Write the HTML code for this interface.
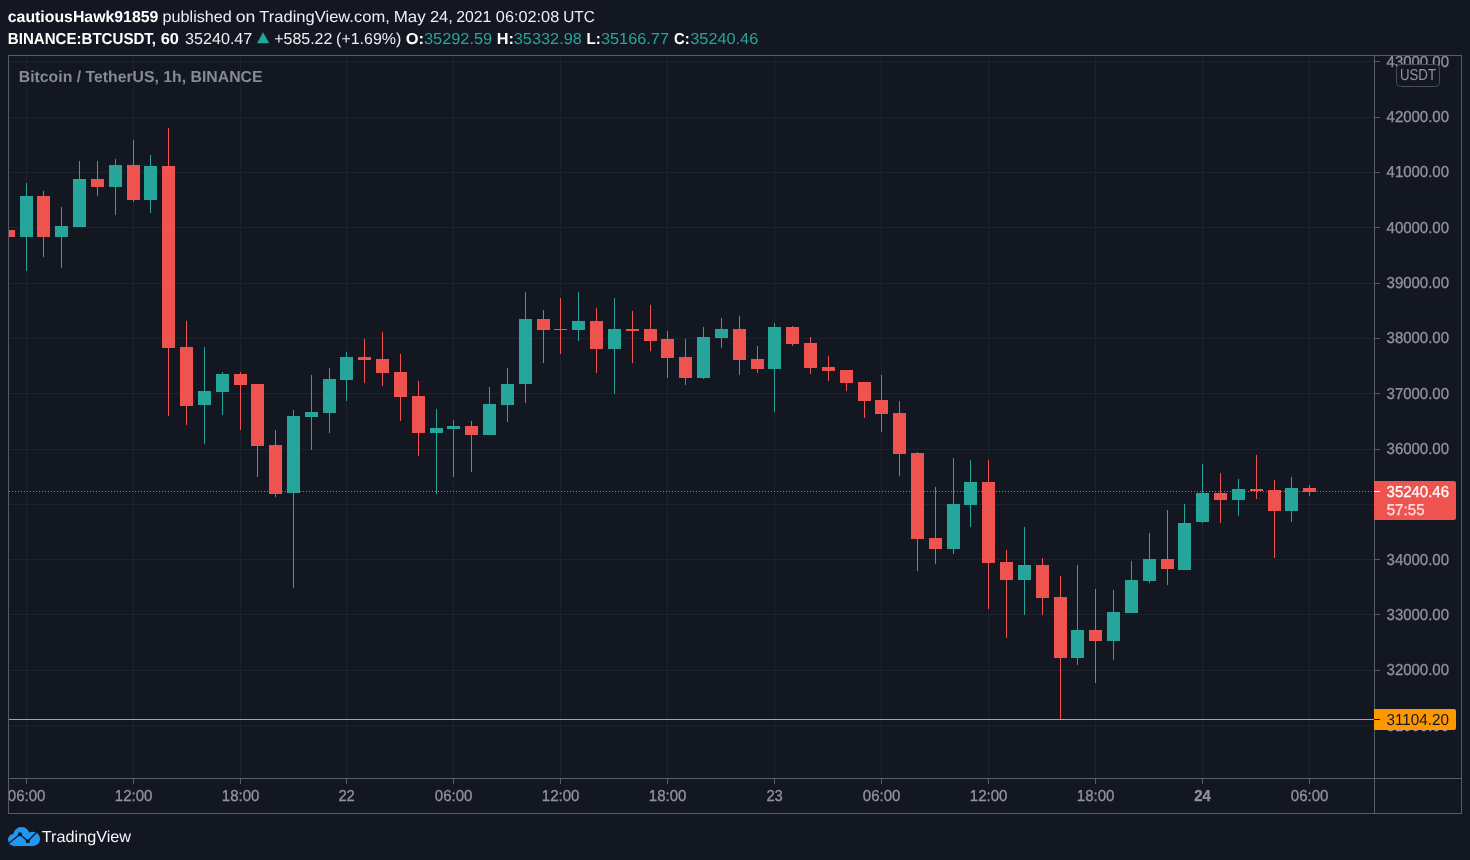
<!DOCTYPE html>
<html lang="en"><head><meta charset="utf-8"><title>BTCUSDT chart - TradingView</title>
<style>html,body{margin:0;padding:0;background:#131722;overflow:hidden}svg{display:block}text{font-family:"Liberation Sans",sans-serif;}.b{font-weight:bold}</style></head><body>
<svg width="1470" height="860" viewBox="0 0 1470 860" text-rendering="geometricPrecision">
<rect width="1470" height="860" fill="#131722"/>
<defs><clipPath id="pane"><rect x="9" y="56" width="1365" height="722"/></clipPath><clipPath id="paxis"><rect x="1375" y="56" width="86" height="722"/></clipPath><clipPath id="taxis"><rect x="9" y="779" width="1365" height="34"/></clipPath></defs>
<g shape-rendering="crispEdges">
<rect x="26" y="56" width="1" height="722" fill="#1e222d"/>
<rect x="133" y="56" width="1" height="722" fill="#1e222d"/>
<rect x="240" y="56" width="1" height="722" fill="#1e222d"/>
<rect x="346" y="56" width="1" height="722" fill="#1e222d"/>
<rect x="453" y="56" width="1" height="722" fill="#1e222d"/>
<rect x="560" y="56" width="1" height="722" fill="#1e222d"/>
<rect x="667" y="56" width="1" height="722" fill="#1e222d"/>
<rect x="774" y="56" width="1" height="722" fill="#1e222d"/>
<rect x="881" y="56" width="1" height="722" fill="#1e222d"/>
<rect x="988" y="56" width="1" height="722" fill="#1e222d"/>
<rect x="1095" y="56" width="1" height="722" fill="#1e222d"/>
<rect x="1202" y="56" width="1" height="722" fill="#1e222d"/>
<rect x="1309" y="56" width="1" height="722" fill="#1e222d"/>
<rect x="9" y="61" width="1365" height="1" fill="#1e222d"/>
<rect x="9" y="117" width="1365" height="1" fill="#1e222d"/>
<rect x="9" y="172" width="1365" height="1" fill="#1e222d"/>
<rect x="9" y="227" width="1365" height="1" fill="#1e222d"/>
<rect x="9" y="283" width="1365" height="1" fill="#1e222d"/>
<rect x="9" y="338" width="1365" height="1" fill="#1e222d"/>
<rect x="9" y="393" width="1365" height="1" fill="#1e222d"/>
<rect x="9" y="449" width="1365" height="1" fill="#1e222d"/>
<rect x="9" y="504" width="1365" height="1" fill="#1e222d"/>
<rect x="9" y="559" width="1365" height="1" fill="#1e222d"/>
<rect x="9" y="614" width="1365" height="1" fill="#1e222d"/>
<rect x="9" y="670" width="1365" height="1" fill="#1e222d"/>
<rect x="9" y="725" width="1365" height="1" fill="#1e222d"/>
<g clip-path="url(#pane)">
<rect x="2" y="230" width="13" height="7" fill="#ef5350"/>
<rect x="26" y="183" width="1" height="88" fill="#26a69a"/>
<rect x="20" y="196" width="13" height="41" fill="#26a69a"/>
<rect x="43" y="191" width="1" height="66" fill="#ef5350"/>
<rect x="37" y="196" width="13" height="41" fill="#ef5350"/>
<rect x="61" y="207" width="1" height="61" fill="#26a69a"/>
<rect x="55" y="226" width="13" height="11" fill="#26a69a"/>
<rect x="79" y="161" width="1" height="66" fill="#26a69a"/>
<rect x="73" y="179" width="13" height="48" fill="#26a69a"/>
<rect x="97" y="161" width="1" height="35" fill="#ef5350"/>
<rect x="91" y="179" width="13" height="8" fill="#ef5350"/>
<rect x="115" y="159" width="1" height="56" fill="#26a69a"/>
<rect x="109" y="165" width="13" height="22" fill="#26a69a"/>
<rect x="133" y="140" width="1" height="62" fill="#ef5350"/>
<rect x="127" y="165" width="13" height="35" fill="#ef5350"/>
<rect x="150" y="155" width="1" height="58" fill="#26a69a"/>
<rect x="144" y="166" width="13" height="34" fill="#26a69a"/>
<rect x="168" y="128" width="1" height="288" fill="#ef5350"/>
<rect x="162" y="166" width="13" height="182" fill="#ef5350"/>
<rect x="186" y="321" width="1" height="104" fill="#ef5350"/>
<rect x="180" y="347" width="13" height="59" fill="#ef5350"/>
<rect x="204" y="347" width="1" height="97" fill="#26a69a"/>
<rect x="198" y="391" width="13" height="14" fill="#26a69a"/>
<rect x="222" y="372" width="1" height="43" fill="#26a69a"/>
<rect x="216" y="374" width="13" height="18" fill="#26a69a"/>
<rect x="240" y="372" width="1" height="58" fill="#ef5350"/>
<rect x="234" y="374" width="13" height="11" fill="#ef5350"/>
<rect x="257" y="384" width="1" height="93" fill="#ef5350"/>
<rect x="251" y="384" width="13" height="62" fill="#ef5350"/>
<rect x="275" y="430" width="1" height="67" fill="#ef5350"/>
<rect x="269" y="445" width="13" height="49" fill="#ef5350"/>
<rect x="293" y="410" width="1" height="178" fill="#26a69a"/>
<rect x="287" y="416" width="13" height="77" fill="#26a69a"/>
<rect x="311" y="375" width="1" height="75" fill="#26a69a"/>
<rect x="305" y="412" width="13" height="5" fill="#26a69a"/>
<rect x="329" y="368" width="1" height="65" fill="#26a69a"/>
<rect x="323" y="379" width="13" height="34" fill="#26a69a"/>
<rect x="346" y="352" width="1" height="49" fill="#26a69a"/>
<rect x="340" y="357" width="13" height="23" fill="#26a69a"/>
<rect x="364" y="339" width="1" height="44" fill="#ef5350"/>
<rect x="358" y="357" width="13" height="3" fill="#ef5350"/>
<rect x="382" y="332" width="1" height="54" fill="#ef5350"/>
<rect x="376" y="359" width="13" height="14" fill="#ef5350"/>
<rect x="400" y="354" width="1" height="67" fill="#ef5350"/>
<rect x="394" y="372" width="13" height="25" fill="#ef5350"/>
<rect x="418" y="381" width="1" height="75" fill="#ef5350"/>
<rect x="412" y="396" width="13" height="37" fill="#ef5350"/>
<rect x="436" y="409" width="1" height="85" fill="#26a69a"/>
<rect x="430" y="428" width="13" height="5" fill="#26a69a"/>
<rect x="453" y="420" width="1" height="57" fill="#26a69a"/>
<rect x="447" y="426" width="13" height="3" fill="#26a69a"/>
<rect x="471" y="421" width="1" height="51" fill="#ef5350"/>
<rect x="465" y="426" width="13" height="9" fill="#ef5350"/>
<rect x="489" y="387" width="1" height="48" fill="#26a69a"/>
<rect x="483" y="404" width="13" height="31" fill="#26a69a"/>
<rect x="507" y="368" width="1" height="54" fill="#26a69a"/>
<rect x="501" y="384" width="13" height="21" fill="#26a69a"/>
<rect x="525" y="292" width="1" height="111" fill="#26a69a"/>
<rect x="519" y="319" width="13" height="65" fill="#26a69a"/>
<rect x="543" y="310" width="1" height="53" fill="#ef5350"/>
<rect x="537" y="319" width="13" height="11" fill="#ef5350"/>
<rect x="560" y="298" width="1" height="56" fill="#ef5350"/>
<rect x="554" y="329" width="13" height="1" fill="#ef5350"/>
<rect x="578" y="292" width="1" height="49" fill="#26a69a"/>
<rect x="572" y="321" width="13" height="9" fill="#26a69a"/>
<rect x="596" y="308" width="1" height="65" fill="#ef5350"/>
<rect x="590" y="321" width="13" height="28" fill="#ef5350"/>
<rect x="614" y="298" width="1" height="96" fill="#26a69a"/>
<rect x="608" y="329" width="13" height="20" fill="#26a69a"/>
<rect x="632" y="311" width="1" height="52" fill="#ef5350"/>
<rect x="626" y="329" width="13" height="2" fill="#ef5350"/>
<rect x="650" y="305" width="1" height="46" fill="#ef5350"/>
<rect x="644" y="329" width="13" height="12" fill="#ef5350"/>
<rect x="667" y="331" width="1" height="47" fill="#ef5350"/>
<rect x="661" y="339" width="13" height="19" fill="#ef5350"/>
<rect x="685" y="339" width="1" height="46" fill="#ef5350"/>
<rect x="679" y="357" width="13" height="21" fill="#ef5350"/>
<rect x="703" y="327" width="1" height="52" fill="#26a69a"/>
<rect x="697" y="337" width="13" height="41" fill="#26a69a"/>
<rect x="721" y="318" width="1" height="30" fill="#26a69a"/>
<rect x="715" y="329" width="13" height="9" fill="#26a69a"/>
<rect x="739" y="316" width="1" height="59" fill="#ef5350"/>
<rect x="733" y="329" width="13" height="31" fill="#ef5350"/>
<rect x="757" y="346" width="1" height="27" fill="#ef5350"/>
<rect x="751" y="359" width="13" height="10" fill="#ef5350"/>
<rect x="774" y="323" width="1" height="89" fill="#26a69a"/>
<rect x="768" y="327" width="13" height="42" fill="#26a69a"/>
<rect x="792" y="326" width="1" height="20" fill="#ef5350"/>
<rect x="786" y="327" width="13" height="17" fill="#ef5350"/>
<rect x="810" y="337" width="1" height="37" fill="#ef5350"/>
<rect x="804" y="343" width="13" height="25" fill="#ef5350"/>
<rect x="828" y="356" width="1" height="25" fill="#ef5350"/>
<rect x="822" y="367" width="13" height="4" fill="#ef5350"/>
<rect x="846" y="370" width="1" height="21" fill="#ef5350"/>
<rect x="840" y="370" width="13" height="13" fill="#ef5350"/>
<rect x="864" y="382" width="1" height="36" fill="#ef5350"/>
<rect x="858" y="382" width="13" height="19" fill="#ef5350"/>
<rect x="881" y="375" width="1" height="57" fill="#ef5350"/>
<rect x="875" y="400" width="13" height="14" fill="#ef5350"/>
<rect x="899" y="401" width="1" height="75" fill="#ef5350"/>
<rect x="893" y="413" width="13" height="41" fill="#ef5350"/>
<rect x="917" y="452" width="1" height="119" fill="#ef5350"/>
<rect x="911" y="453" width="13" height="86" fill="#ef5350"/>
<rect x="935" y="487" width="1" height="77" fill="#ef5350"/>
<rect x="929" y="538" width="13" height="11" fill="#ef5350"/>
<rect x="953" y="458" width="1" height="96" fill="#26a69a"/>
<rect x="947" y="504" width="13" height="45" fill="#26a69a"/>
<rect x="970" y="460" width="1" height="67" fill="#26a69a"/>
<rect x="964" y="482" width="13" height="23" fill="#26a69a"/>
<rect x="988" y="460" width="1" height="149" fill="#ef5350"/>
<rect x="982" y="482" width="13" height="81" fill="#ef5350"/>
<rect x="1006" y="550" width="1" height="88" fill="#ef5350"/>
<rect x="1000" y="562" width="13" height="18" fill="#ef5350"/>
<rect x="1024" y="527" width="1" height="88" fill="#26a69a"/>
<rect x="1018" y="565" width="13" height="15" fill="#26a69a"/>
<rect x="1042" y="558" width="1" height="57" fill="#ef5350"/>
<rect x="1036" y="565" width="13" height="33" fill="#ef5350"/>
<rect x="1060" y="576" width="1" height="143" fill="#ef5350"/>
<rect x="1054" y="597" width="13" height="61" fill="#ef5350"/>
<rect x="1077" y="565" width="1" height="100" fill="#26a69a"/>
<rect x="1071" y="630" width="13" height="28" fill="#26a69a"/>
<rect x="1095" y="589" width="1" height="94" fill="#ef5350"/>
<rect x="1089" y="630" width="13" height="11" fill="#ef5350"/>
<rect x="1113" y="590" width="1" height="70" fill="#26a69a"/>
<rect x="1107" y="612" width="13" height="29" fill="#26a69a"/>
<rect x="1131" y="561" width="1" height="52" fill="#26a69a"/>
<rect x="1125" y="580" width="13" height="33" fill="#26a69a"/>
<rect x="1149" y="533" width="1" height="50" fill="#26a69a"/>
<rect x="1143" y="559" width="13" height="22" fill="#26a69a"/>
<rect x="1167" y="510" width="1" height="75" fill="#ef5350"/>
<rect x="1161" y="559" width="13" height="10" fill="#ef5350"/>
<rect x="1184" y="504" width="1" height="66" fill="#26a69a"/>
<rect x="1178" y="523" width="13" height="47" fill="#26a69a"/>
<rect x="1202" y="464" width="1" height="59" fill="#26a69a"/>
<rect x="1196" y="493" width="13" height="29" fill="#26a69a"/>
<rect x="1220" y="473" width="1" height="50" fill="#ef5350"/>
<rect x="1214" y="493" width="13" height="7" fill="#ef5350"/>
<rect x="1238" y="479" width="1" height="37" fill="#26a69a"/>
<rect x="1232" y="489" width="13" height="11" fill="#26a69a"/>
<rect x="1256" y="455" width="1" height="44" fill="#ef5350"/>
<rect x="1250" y="489" width="13" height="2" fill="#ef5350"/>
<rect x="1274" y="480" width="1" height="78" fill="#ef5350"/>
<rect x="1268" y="490" width="13" height="21" fill="#ef5350"/>
<rect x="1291" y="477" width="1" height="45" fill="#26a69a"/>
<rect x="1285" y="488" width="13" height="23" fill="#26a69a"/>
<rect x="1309" y="485" width="1" height="11" fill="#ef5350"/>
<rect x="1303" y="488" width="13" height="4" fill="#ef5350"/>
</g>
<rect x="9" y="719" width="1365" height="1" fill="#ff9800"/>
<line x1="9" y1="491.5" x2="1374" y2="491.5" stroke="#ef5350" stroke-width="1" stroke-dasharray="1 2"/>
<rect x="8" y="55" width="1454" height="1" fill="#585b68"/>
<rect x="8" y="813" width="1454" height="1" fill="#585b68"/>
<rect x="8" y="55" width="1" height="759" fill="#585b68"/>
<rect x="1461" y="55" width="1" height="759" fill="#585b68"/>
<rect x="1374" y="55" width="1" height="759" fill="#585b68"/>
<rect x="8" y="778" width="1454" height="1" fill="#585b68"/>
<rect x="26" y="779" width="1" height="5" fill="#585b68"/>
<rect x="133" y="779" width="1" height="5" fill="#585b68"/>
<rect x="240" y="779" width="1" height="5" fill="#585b68"/>
<rect x="346" y="779" width="1" height="5" fill="#585b68"/>
<rect x="453" y="779" width="1" height="5" fill="#585b68"/>
<rect x="560" y="779" width="1" height="5" fill="#585b68"/>
<rect x="667" y="779" width="1" height="5" fill="#585b68"/>
<rect x="774" y="779" width="1" height="5" fill="#585b68"/>
<rect x="881" y="779" width="1" height="5" fill="#585b68"/>
<rect x="988" y="779" width="1" height="5" fill="#585b68"/>
<rect x="1095" y="779" width="1" height="5" fill="#585b68"/>
<rect x="1202" y="779" width="1" height="5" fill="#585b68"/>
<rect x="1309" y="779" width="1" height="5" fill="#585b68"/>
<rect x="1375" y="61" width="5" height="1" fill="#585b68"/>
<rect x="1375" y="117" width="5" height="1" fill="#585b68"/>
<rect x="1375" y="172" width="5" height="1" fill="#585b68"/>
<rect x="1375" y="227" width="5" height="1" fill="#585b68"/>
<rect x="1375" y="283" width="5" height="1" fill="#585b68"/>
<rect x="1375" y="338" width="5" height="1" fill="#585b68"/>
<rect x="1375" y="393" width="5" height="1" fill="#585b68"/>
<rect x="1375" y="449" width="5" height="1" fill="#585b68"/>
<rect x="1375" y="504" width="5" height="1" fill="#585b68"/>
<rect x="1375" y="559" width="5" height="1" fill="#585b68"/>
<rect x="1375" y="614" width="5" height="1" fill="#585b68"/>
<rect x="1375" y="670" width="5" height="1" fill="#585b68"/>
<rect x="1375" y="725" width="5" height="1" fill="#585b68"/>
</g>
<g clip-path="url(#paxis)" font-size="15.9" fill="#9194a0" stroke="#9194a0" stroke-width="0.3">
<text x="1386.55" y="67.3" textLength="62.47" lengthAdjust="spacingAndGlyphs">43000.00</text>
<text x="1386.55" y="122.3" textLength="62.47" lengthAdjust="spacingAndGlyphs">42000.00</text>
<text x="1386.55" y="177.3" textLength="62.47" lengthAdjust="spacingAndGlyphs">41000.00</text>
<text x="1386.55" y="233.3" textLength="62.47" lengthAdjust="spacingAndGlyphs">40000.00</text>
<text x="1386.55" y="288.3" textLength="62.47" lengthAdjust="spacingAndGlyphs">39000.00</text>
<text x="1386.55" y="343.3" textLength="62.47" lengthAdjust="spacingAndGlyphs">38000.00</text>
<text x="1386.55" y="399.3" textLength="62.47" lengthAdjust="spacingAndGlyphs">37000.00</text>
<text x="1386.55" y="454.3" textLength="62.47" lengthAdjust="spacingAndGlyphs">36000.00</text>
<text x="1386.55" y="509.3" textLength="62.47" lengthAdjust="spacingAndGlyphs">35000.00</text>
<text x="1386.55" y="565.3" textLength="62.47" lengthAdjust="spacingAndGlyphs">34000.00</text>
<text x="1386.55" y="620.3" textLength="62.47" lengthAdjust="spacingAndGlyphs">33000.00</text>
<text x="1386.55" y="675.3" textLength="62.47" lengthAdjust="spacingAndGlyphs">32000.00</text>
<text x="1386.55" y="731.3" textLength="62.47" lengthAdjust="spacingAndGlyphs">31000.00</text>
</g>
<rect x="1396.5" y="64.5" width="43" height="22" rx="4" ry="4" fill="#131722" stroke="#4a4e5a" stroke-width="1"/>
<text x="1399.96" y="80.4" font-size="15.9" fill="#9194a0" textLength="36.07" lengthAdjust="spacingAndGlyphs">USDT</text>
<path d="M1374 709h80a2 2 0 0 1 2 2v17a2 2 0 0 1 -2 2h-80z" fill="#ff9800"/>
<rect x="1374" y="719" width="6" height="1" fill="#131722" shape-rendering="crispEdges"/>
<text x="1386.55" y="725" font-size="15.9" fill="#131722" textLength="62.47" lengthAdjust="spacingAndGlyphs">31104.20</text>
<path d="M1374 481h80a2 2 0 0 1 2 2v35a2 2 0 0 1 -2 2h-80z" fill="#ef5350"/>
<rect x="1374" y="491" width="6" height="1" fill="#ffffff" shape-rendering="crispEdges"/>
<text x="1386.55" y="497" font-size="15.9" fill="#ffffff" stroke="#ffffff" stroke-width="0.3" textLength="62.47" lengthAdjust="spacingAndGlyphs">35240.46</text>
<text x="1386.7" y="515.3" font-size="15.9" fill="#fbdcdc" stroke="#fbdcdc" stroke-width="0.3" textLength="37.91" lengthAdjust="spacingAndGlyphs">57:55</text>
<g clip-path="url(#taxis)" font-size="15.9" fill="#9194a0" stroke="#9194a0" stroke-width="0.3">
<text x="7.81" y="801.1" textLength="37.60" lengthAdjust="spacingAndGlyphs">06:00</text>
<text x="114.81" y="801.1" textLength="37.60" lengthAdjust="spacingAndGlyphs">12:00</text>
<text x="221.81" y="801.1" textLength="37.60" lengthAdjust="spacingAndGlyphs">18:00</text>
<text x="338.40" y="801.1" textLength="16.45" lengthAdjust="spacingAndGlyphs">22</text>
<text x="434.81" y="801.1" textLength="37.60" lengthAdjust="spacingAndGlyphs">06:00</text>
<text x="541.81" y="801.1" textLength="37.60" lengthAdjust="spacingAndGlyphs">12:00</text>
<text x="648.81" y="801.1" textLength="37.60" lengthAdjust="spacingAndGlyphs">18:00</text>
<text x="766.40" y="801.1" textLength="16.45" lengthAdjust="spacingAndGlyphs">23</text>
<text x="862.81" y="801.1" textLength="37.60" lengthAdjust="spacingAndGlyphs">06:00</text>
<text x="969.81" y="801.1" textLength="37.60" lengthAdjust="spacingAndGlyphs">12:00</text>
<text x="1076.81" y="801.1" textLength="37.60" lengthAdjust="spacingAndGlyphs">18:00</text>
<text x="1194.13" y="801.1" class="b" textLength="16.53" lengthAdjust="spacingAndGlyphs">24</text>
<text x="1290.81" y="801.1" textLength="37.60" lengthAdjust="spacingAndGlyphs">06:00</text>
</g>
<text y="82" font-size="15.9" fill="#868a97"><tspan x="18.76" textLength="243.77" lengthAdjust="spacingAndGlyphs" class="b">Bitcoin / TetherUS, 1h, BINANCE</tspan></text>
<text y="22" font-size="15.9" fill="#eeeff2"><tspan x="7.78" textLength="150.57" lengthAdjust="spacingAndGlyphs" fill="#ffffff" class="b">cautiousHawk91859</tspan> <tspan x="162.58" textLength="69.28" lengthAdjust="spacingAndGlyphs">published</tspan> <tspan x="235.71" textLength="19.57" lengthAdjust="spacingAndGlyphs">on</tspan> <tspan x="259.31" textLength="130.47" lengthAdjust="spacingAndGlyphs">TradingView.com,</tspan> <tspan x="393.67" textLength="31.96" lengthAdjust="spacingAndGlyphs">May</tspan> <tspan x="429.92" textLength="22.87" lengthAdjust="spacingAndGlyphs">24,</tspan> <tspan x="456.16" textLength="35.07" lengthAdjust="spacingAndGlyphs">2021</tspan> <tspan x="495.86" textLength="63.36" lengthAdjust="spacingAndGlyphs">06:02:08</tspan> <tspan x="563.29" textLength="31.56" lengthAdjust="spacingAndGlyphs">UTC</tspan></text>
<path d="M257.0 43.2L263.1 32.2L269.2 43.2z" fill="#26a69a"/>
<text y="44" font-size="15.9" fill="#eeeff2"><tspan x="7.85" textLength="148.21" lengthAdjust="spacingAndGlyphs" fill="#ffffff" class="b">BINANCE:BTCUSDT,</tspan> <tspan x="160.68" textLength="18.22" lengthAdjust="spacingAndGlyphs" fill="#ffffff" class="b">60</tspan> <tspan x="185.07" textLength="67.23" lengthAdjust="spacingAndGlyphs">35240.47</tspan> <tspan x="274.25" textLength="58.12" lengthAdjust="spacingAndGlyphs">+585.22</tspan> <tspan x="336.10" textLength="65.23" lengthAdjust="spacingAndGlyphs">(+1.69%)</tspan> <tspan x="405.75" textLength="18.34" lengthAdjust="spacingAndGlyphs" fill="#ffffff" class="b">O:</tspan><tspan x="423.96" textLength="68.25" lengthAdjust="spacingAndGlyphs" fill="#26a69a">35292.59</tspan> <tspan x="496.68" textLength="17.19" lengthAdjust="spacingAndGlyphs" fill="#ffffff" class="b">H:</tspan><tspan x="513.76" textLength="68.12" lengthAdjust="spacingAndGlyphs" fill="#26a69a">35332.98</tspan> <tspan x="586.56" textLength="14.16" lengthAdjust="spacingAndGlyphs" fill="#ffffff" class="b">L:</tspan><tspan x="600.96" textLength="68.04" lengthAdjust="spacingAndGlyphs" fill="#26a69a">35166.77</tspan> <tspan x="674.02" textLength="15.61" lengthAdjust="spacingAndGlyphs" fill="#ffffff" class="b">C:</tspan><tspan x="690.26" textLength="68.01" lengthAdjust="spacingAndGlyphs" fill="#26a69a">35240.46</tspan></text>
<g transform="translate(8,827)">
<g fill="#2196f3"><circle cx="6.2" cy="12.85" r="6.2"/><circle cx="13.5" cy="8.3" r="8.3"/><ellipse cx="24.8" cy="11.95" rx="7.3" ry="7.1"/><rect x="6.2" y="12" width="18.4" height="7.05"/></g>
<path d="M0.5 16.6L12 7.3L19.8 14.2L28.5 5.3" fill="none" stroke="#131722" stroke-width="1.35"/>
<circle cx="12" cy="7.3" r="2.05" fill="#131722"/><circle cx="19.8" cy="14.2" r="2.05" fill="#131722"/>
</g>
<text y="841.7" font-size="15.9" fill="#f4f5f7"><tspan x="41.82" textLength="89.23" lengthAdjust="spacingAndGlyphs">TradingView</tspan></text>
</svg></body></html>
